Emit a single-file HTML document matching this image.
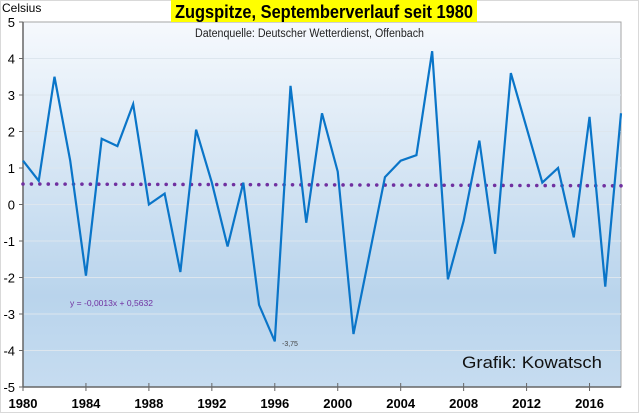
<!DOCTYPE html>
<html><head><meta charset="utf-8"><style>
body{margin:0;background:#fff;}
svg{display:block;font-family:"Liberation Sans",sans-serif;}
</style></head><body>
<svg id="chart" width="640" height="414" viewBox="0 0 640 414">
<defs>
<linearGradient id="bg" x1="0" y1="0" x2="0" y2="1">
<stop offset="0" stop-color="#f6f9fd"/>
<stop offset="0.75" stop-color="#b9d4ec"/>
<stop offset="1" stop-color="#c6dcf0"/>
</linearGradient>
</defs>
<rect x="0.5" y="0.5" width="638" height="412" fill="#fff" stroke="#d9d9d9"/>
<rect x="23" y="22" width="598" height="365" fill="url(#bg)" stroke="#a6a6a6"/>
<g id="grid"></g>
<g id="axes"></g>
<g id="trend"></g>
<polyline id="series" fill="none" stroke="#0a75c8" stroke-width="2.2" stroke-linejoin="miter"/>
<rect x="171" y="0" width="306" height="22" fill="#ffff00"/>
<text x="175" y="18" font-size="18" font-weight="bold" fill="#000" textLength="298" lengthAdjust="spacingAndGlyphs">Zugspitze, Septemberverlauf seit 1980</text>
<text x="195" y="37" font-size="11.5" fill="#222" textLength="229" lengthAdjust="spacingAndGlyphs">Datenquelle: Deutscher Wetterdienst, Offenbach</text>
<text x="2" y="12" font-size="12" fill="#000">Celsius</text>
<text x="70" y="306" font-size="8" fill="#7030a0" textLength="83" lengthAdjust="spacingAndGlyphs">y = -0,0013x + 0,5632</text>
<text x="282" y="346" font-size="7" fill="#444">-3,75</text>
<text x="462" y="368" font-size="17" fill="#111" textLength="140" lengthAdjust="spacingAndGlyphs">Grafik: Kowatsch</text>
</svg>
<script>
const years=[1980,1981,1982,1983,1984,1985,1986,1987,1988,1989,1990,1991,1992,1993,1994,1995,1996,1997,1998,1999,2000,2001,2002,2003,2004,2005,2006,2007,2008,2009,2010,2011,2012,2013,2014,2015,2016,2017,2018];
const temps=[1.2,0.65,3.5,1.2,-1.95,1.8,1.6,2.75,0.0,0.3,-1.85,2.05,0.6,-1.15,0.6,-2.75,-3.75,3.25,-0.5,2.5,0.9,-3.55,-1.4,0.75,1.2,1.35,4.2,-2.05,-0.45,1.75,-1.35,3.6,2.1,0.6,1.0,-0.9,2.4,-2.25,2.5];
const yTicks=[5,4,3,2,1,0,-1,-2,-3,-4,-5];
const xTicks=[1980,1984,1988,1992,1996,2000,2004,2008,2012,2016];
const trendSlope=-0.0013, trendIntercept=0.5632;
const X0=23,X1=621,Y0=22,Y1=387;
const x=v=>X0+(v-1980)/(2018-1980)*(X1-X0);
const y=v=>Y1-(v+5)/10*(Y1-Y0);
const NS='http://www.w3.org/2000/svg';
function mk(t,a,p){const e=document.createElementNS(NS,t);for(const k in a)e.setAttribute(k,a[k]);p.appendChild(e);return e;}
const grid=document.getElementById('grid'),axes=document.getElementById('axes'),trend=document.getElementById('trend');
yTicks.forEach(v=>{
 if(v!==5&&v!==-5){const g=mk('line',{x1:X0,x2:X1,y1:y(v),y2:y(v),stroke:'#dde6ee','stroke-width':1},grid);
 
 }
 const t=mk('line',{x1:X0-4,x2:X0,y1:y(v),y2:y(v),stroke:'#666'},axes);
 
 
 const l=mk('text',{x:X0-8,y:y(v)+5,'text-anchor':'end','font-size':13,fill:'#000'},axes);
 l.textContent=v;
 
 
});
mk('line',{x1:X0,x2:X0,y1:Y0,y2:Y1,stroke:'#666','stroke-width':1.5},axes);
mk('line',{x1:X0,x2:X1,y1:Y1,y2:Y1,stroke:'#666','stroke-width':1.5},axes);
xTicks.forEach(v=>{
 const t=mk('line',{x1:x(v),x2:x(v),y1:Y1-4,y2:Y1+4,stroke:'#666'},axes);
 
 
 const l=mk('text',{x:x(v),y:408,'text-anchor':'middle','font-size':13,'font-weight':'bold',fill:'#000'},axes);
 l.textContent=v;
 
 
});
const tx0=x(1980),tx1=x(2018);
const ty0=y(trendIntercept+trendSlope*1),ty1=y(trendIntercept+trendSlope*years.length);
const n=Math.round((tx1-tx0)/8.4);
for(let i=0;i<=n;i++){const f=i/n;
 const d=mk('circle',{cx:tx0+f*(tx1-tx0),cy:ty0+f*(ty1-ty0),r:1.8,fill:'#7030a0'},trend);
 
 }
document.getElementById('series').setAttribute('points',years.map((yr,i)=>x(yr)+','+y(temps[i])).join(' '));
</script>
</body></html>
